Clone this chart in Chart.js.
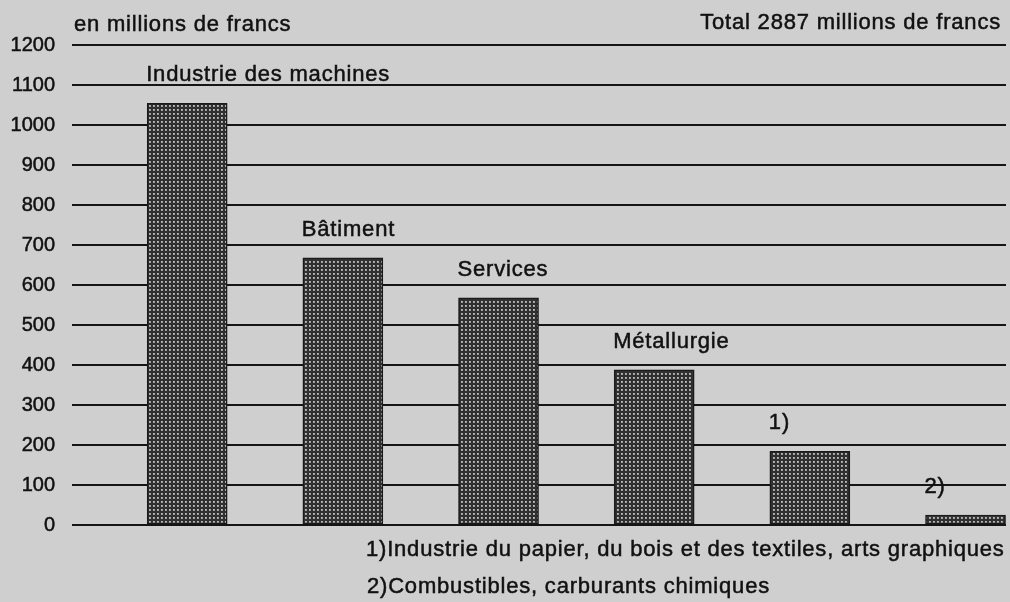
<!DOCTYPE html>
<html lang="fr">

<head>
    <meta charset="UTF-8">
    <meta name="viewport" content="width=device-width, initial-scale=1.0">
    <title>Investissements par branche</title>
    <script src="https://cdn.jsdelivr.net/npm/chart.js@4.4.1/dist/chart.umd.min.js"></script>
    <style>
        body {
            margin: 0;
            background: #cfcfcf;
        }

        .chart-container {
            position: relative;
            width: 1010px;
            height: 602px;
        }
    </style>
</head>

<body>
    <div class="chart-container">
        <canvas id="myChart"></canvas>
    </div>

    <script>
        // DONNÉES DU GRAPHIQUE
        const categories = ['Industrie des machines', 'Bâtiment', 'Services', 'Métallurgie', '1)', '2)'];
        const valeurs = [1054, 668, 568, 388, 184, 25];
        const yTicks = [0, 100, 200, 300, 400, 500, 600, 700, 800, 900, 1000, 1100, 1200];

        const uniteTexte = 'en millions de francs';
        const totalTexte = 'Total 2887 millions de francs';
        const notes = [
            '1)Industrie du papier, du bois et des textiles, arts graphiques',
            '2)Combustibles, carburants chimiques'
        ];

        const famille = '"Liberation Sans", Arial, sans-serif';
        const police = '22px ' + famille;
        const couleurTexte = '#111';

        // Motif tramé des barres (petits points clairs sur fond sombre)
        function creerTrame() {
            const c = document.createElement('canvas');
            c.width = 4;
            c.height = 4;
            const g = c.getContext('2d');
            g.fillStyle = '#303030';
            g.fillRect(0, 0, 4, 4);
            g.fillStyle = '#a0a0a0';
            g.fillRect(1, 1, 2, 2);
            g.fillStyle = '#c4c4c4';
            g.fillRect(1, 1, 1, 1);
            return g.createPattern(c, 'repeat');
        }

        // texte un peu épaissi, comme l'impression d'origine
        function ecrire(ctx, texte, x, y) {
            ctx.fillText(texte, x, y);
            ctx.strokeText(texte, x, y);
        }

        // Textes : étiquettes au-dessus des barres, unité, total et notes
        const textesPlugin = {
            id: 'textes',
            afterDraw(chart) {
                const ctx = chart.ctx;
                ctx.save();
                ctx.font = police;
                ctx.fillStyle = couleurTexte;
                ctx.strokeStyle = couleurTexte;
                ctx.lineWidth = 0.5;
                ctx.letterSpacing = '0.8px';
                ctx.textBaseline = 'alphabetic';

                // étiquettes alignées sur le bord gauche de chaque barre
                ctx.textAlign = 'left';
                chart.getDatasetMeta(0).data.forEach((bar, i) => {
                    const gauche = bar.x - bar.width / 2 - 1;
                    ecrire(ctx, categories[i], gauche, bar.y - 22);
                });

                ecrire(ctx, uniteTexte, 74, 31);
                ecrire(ctx, notes[0], 366, 556);
                ecrire(ctx, notes[1], 367, 593);

                ctx.textAlign = 'right';
                ecrire(ctx, totalTexte, 1001, 29);
                ctx.restore();
            }
        };

        window.addEventListener('DOMContentLoaded', () => {
            const ctx = document.getElementById('myChart').getContext('2d');

            new Chart(ctx, {
                type: 'bar',
                data: {
                    datasets: [{
                        label: 'Valeur',
                        data: categories.map((c, i) => ({ x: i, y: valeurs[i] })),
                        backgroundColor: creerTrame(),
                        borderColor: '#1a1a1a',
                        borderWidth: 1.5,
                        borderSkipped: false,
                        barThickness: 80
                    }]
                },
                options: {
                    responsive: true,
                    maintainAspectRatio: false,
                    animation: false,
                    layout: { padding: { top: 45, right: 4, bottom: 77, left: 0 } },
                    plugins: {
                        legend: { display: false },
                        tooltip: { enabled: false }
                    },
                    scales: {
                        x: {
                            type: 'linear',
                            display: false,
                            offset: false,
                            min: -0.74,
                            max: 5.26
                        },
                        y: {
                            min: 0,
                            max: 1200,
                            afterFit(scale) { scale.width = 72; },
                            afterBuildTicks(scale) {
                                scale.ticks = yTicks.map(v => ({ value: v }));
                            },
                            border: { display: false },
                            grid: {
                                color: '#151515',
                                lineWidth: 2,
                                drawTicks: false
                            },
                            ticks: {
                                padding: 17,
                                color: couleurTexte,
                                textStrokeColor: couleurTexte,
                                textStrokeWidth: 0.5,
                                font: { family: famille, size: 20 },
                                callback: v => String(v)
                            }
                        }
                    }
                },
                plugins: [textesPlugin]
            });
        });
    </script>
</body>

</html>
